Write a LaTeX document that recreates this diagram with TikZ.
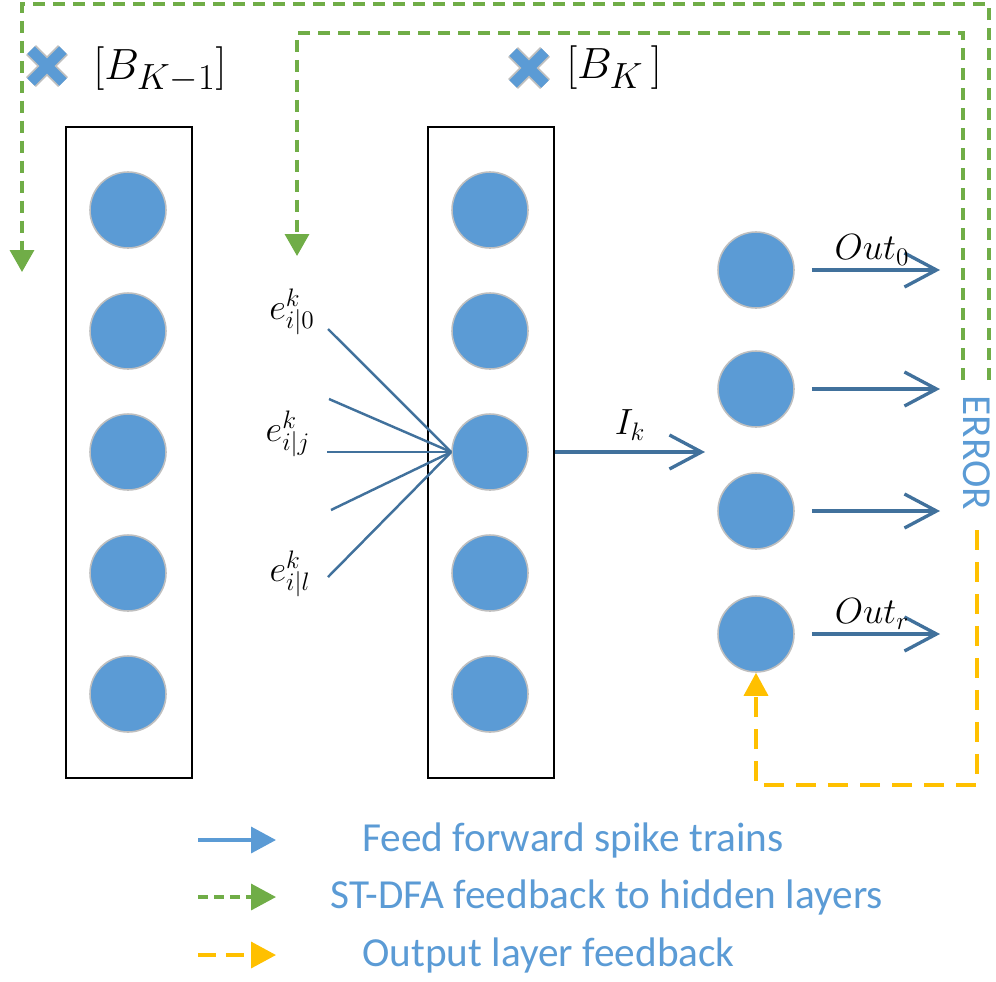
\documentclass[tikz,border=0pt]{standalone}
\usepackage{fontspec}
\newfontfamily\legendfont{Carlito}
\usetikzlibrary{arrows.meta}
\usetikzlibrary{fit}

\definecolor{neuronblue}{RGB}{91,155,213}
\definecolor{linkblue}{RGB}{65,113,156}
\definecolor{dfagreen}{RGB}{112,173,71}
\definecolor{outorange}{RGB}{255,192,0}

\tikzset{
  neuron/.style={circle, fill=neuronblue, draw=black!25, line width=0.9pt, minimum size=1.52cm, inner sep=0pt},
  layerbox/.style={draw=black, line width=1.2pt, inner sep=0pt},
  fan/.style={linkblue, line width=1.4pt},
  fwd/.style={linkblue, line width=1.9pt, -{Straight Barb[length=0.64cm, width=0.68cm, line width=1.9pt]}},
  dfa/.style={dfagreen, line width=2pt, dash pattern=on 0.24cm off 0.16cm, -{Triangle[length=0.44cm, width=0.48cm]}},
  outfb/.style={outorange, line width=2pt, dash pattern=on 0.4cm off 0.24cm, -{Triangle[length=0.46cm, width=0.48cm]}},
  crossout/.style={black!25, line width=0.28cm},
  crossin/.style={neuronblue, line width=0.21cm},
  mlabel/.style={inner sep=0pt, text=black, font=\huge},
  olabel/.style={inner sep=0pt, text=black, font=\huge},
  blabel/.style={inner sep=0pt, text=black, font=\Huge},
  bluetext/.style={neuronblue, inner sep=0pt, font=\legendfont\fontsize{23.5}{28}\selectfont},
  legarrow/.style={line width=2pt, -{Triangle[length=0.5cm, width=0.52cm]}},
}

\begin{document}
\begin{tikzpicture}[x=0.02cm, y=-0.02cm]
  \useasboundingbox (0,0) rectangle (996,981);

  % layers
  \foreach \y [count=\i] in {210,331,452,573,694} {
    \node[neuron] (a\i) at (128,\y) {};
    \node[neuron] (h\i) at (490,\y) {};
  }
  \foreach \y [count=\i] in {270,389,511,634} {
    \node[neuron] (o\i) at (756,\y) {};
  }
  \node[layerbox, fit={(66,127) (192,778)}] (prev) {};
  \node[layerbox, fit={(428,127) (554,778)}] (hid) {};

  % B matrices
  \draw[crossout] (31,50) -- (63,82) (31,82) -- (63,50);
  \draw[crossin] (31,50) -- (63,82) (31,82) -- (63,50);
  \node[blabel] (bk1) at (160,70) {$[B_{K-1}]$};
  \draw[crossout] (513,52) -- (545,84) (513,84) -- (545,52);
  \draw[crossin] (513,52) -- (545,84) (513,84) -- (545,52);
  \node[blabel] (bk) at (614,68) {$[B_{K}\,]$};

  % inputs to the hidden neuron
  \node[mlabel] (e0) at (292,312) {$e^k_{i|0}$};
  \node[mlabel] (ej) at (288,434) {$e^k_{i|j}$};
  \node[mlabel] (el) at (290,574) {$e^k_{i|l}$};
  \foreach \x/\y [count=\i] in {328/329, 329/399, 327/452, 331/510, 328/577} {
    \coordinate (f\i) at (\x,\y);
    \draw[fan] (f\i) -- (h3.west);
  }

  % spike trains forward
  \coordinate (ik) at (705,452);
  \draw[fwd] (h3.east -| hid.east) -- (ik) node[midway, above=0.2cm, olabel] {$I_k$};
  \foreach \i in {1,...,4} {
    \coordinate (t\i) at (940,{0} |- o\i);
    \draw[fwd, shorten <=0.34cm] (o\i.east) -- (t\i);
  }
  \node[olabel] (out0) at (872,250) {$Out_0$};
  \node[olabel] (outr) at (872,614) {$Out_r$};

  % error feedback
  \node[bluetext, rotate=-90] (err) at (977,453) {ERROR};
  \coordinate (g1) at (989,380);
  \coordinate (g2) at (963,380);
  \coordinate (d1) at (22,272);
  \coordinate (d2) at (297,256);
  \draw[dfa] (g1) -- (989,4) -- (22,4) -- (d1);
  \draw[dfa] (g2) -- (963,33) -- (297,33) -- (d2);
  \coordinate (r1) at (977,530);
  \draw[outfb] (r1) -- (977,785) -- (756,785) -- (o4.south);

  % legend
  \foreach \y [count=\i] in {840,897,955} {
    \coordinate (ls\i) at (198,\y);
    \coordinate (le\i) at (276,\y);
  }
  \draw[legarrow, neuronblue] (ls1) -- (le1);
  \draw[legarrow, dfagreen, dash pattern=on 0.2cm off 0.12cm] (ls2) -- (le2);
  \draw[legarrow, outorange, dash pattern=on 0.36cm off 0.2cm] (ls3) -- (le3);
  \node[bluetext, anchor=west] (leg1) at (362,840) {Feed forward spike trains};
  \node[bluetext, anchor=west] (leg2) at (330,897) {ST-DFA feedback to hidden layers};
  \node[bluetext, anchor=west] (leg3) at (362,955) {Output layer feedback};
\end{tikzpicture}
\end{document}
